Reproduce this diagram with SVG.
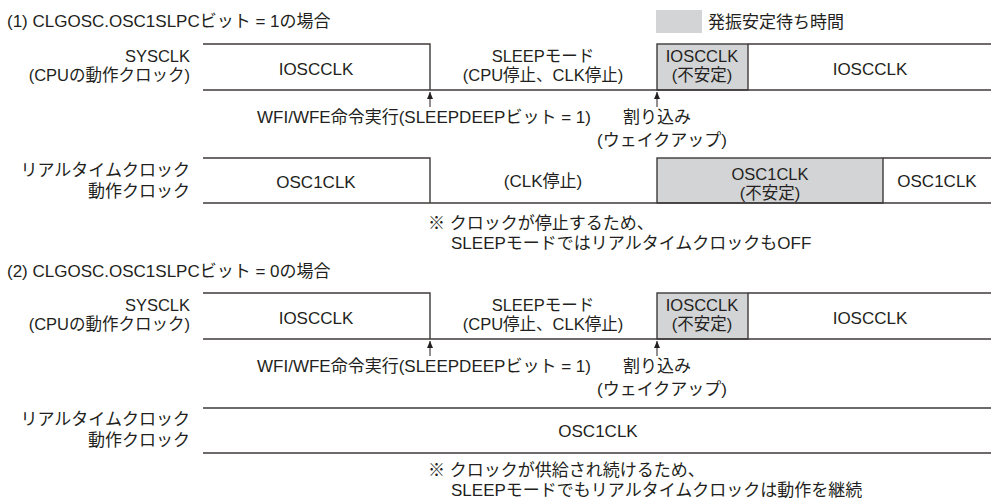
<svg xmlns="http://www.w3.org/2000/svg" width="991" height="500" viewBox="0 0 991 500">
<defs>
<style>
text{font-family:"Liberation Sans","Noto Sans CJK JP",sans-serif;font-size:17px;fill:#231f20}
.s{font-size:16.5px}
.r{text-anchor:end}
.m{text-anchor:middle}
.ln{stroke:#3e3a39;stroke-width:1.4;fill:none}
.g{fill:#d3d4d6;stroke:#3e3a39;stroke-width:1.4}
.ar{stroke:#231f20;stroke-width:1;fill:none}
</style>
<marker id="ah" viewBox="0 0 7 6" refX="7" refY="3" markerWidth="7" markerHeight="6" markerUnits="userSpaceOnUse" orient="auto">
<path d="M0,0 L7,3 L0,6 Z" fill="#231f20"/>
</marker>
</defs>
<g id="title1"><text x="7" y="27">(1) CLGOSC.OSC1SLPCビット = 1の場合</text></g>
<g id="legend"><rect x="656" y="10" width="46" height="23" fill="#d3d4d6"/><text x="708" y="28">発振安定待ち時間</text></g>

<g id="s1-sys-label"><text class="r s" x="190" y="62">SYSCLK</text><text class="r s" x="190" y="81">(CPUの動作クロック)</text></g>
<g id="s1-sys-ios1"><path class="ln" d="M203,44 H430 V90"/><text class="m" x="316" y="75">IOSCCLK</text></g>
<g id="s1-sys-sleep"><text class="m s" x="543" y="62">SLEEPモード</text><text class="m s" x="543" y="81">(CPU停止、CLK停止)</text></g>
<g id="s1-sys-unst"><rect class="g" x="657" y="44" width="91" height="46"/><text class="m s" x="702" y="62">IOSCCLK</text><text class="m s" x="702" y="81">(不安定)</text></g>
<g id="s1-sys-ios2"><path class="ln" d="M748,44 H991"/><text class="m" x="870" y="75">IOSCCLK</text></g>
<g id="s1-sys-base"><path class="ln" d="M203,90 H991"/></g>

<g id="s1-ev1"><text x="257" y="123">WFI/WFE命令実行(SLEEPDEEPビット = 1)</text></g>
<g id="s1-ev2"><text x="623" y="123">割り込み</text><text x="597" y="146">(ウェイクアップ)</text></g>

<g id="s1-rtc-label"><text class="r" x="190" y="176">リアルタイムクロック</text><text class="r" x="190" y="197">動作クロック</text></g>
<g id="s1-rtc-osc1"><path class="ln" d="M203,158 H430 V203"/><text class="m" x="316" y="188">OSC1CLK</text></g>
<g id="s1-rtc-stop"><text class="m" x="543" y="187">(CLK停止)</text></g>
<g id="s1-rtc-unst"><rect class="g" x="657" y="158" width="226" height="45"/><text class="m s" x="770" y="180">OSC1CLK</text><text class="m s" x="770" y="199">(不安定)</text></g>
<g id="s1-rtc-osc2"><path class="ln" d="M883,158 H991"/><text class="m" x="937" y="187">OSC1CLK</text></g>
<g id="s1-rtc-base"><path class="ln" d="M203,203 H991"/></g>
<g id="s1-note"><text x="428" y="229">※ クロックが停止するため、</text><text x="451" y="249">SLEEPモードではリアルタイムクロックもOFF</text></g>

<g id="title2"><text x="7" y="277">(2) CLGOSC.OSC1SLPCビット = 0の場合</text></g>
<g id="s2-sys-label"><text class="r s" x="190" y="311">SYSCLK</text><text class="r s" x="190" y="330">(CPUの動作クロック)</text></g>
<g id="s2-sys-ios1"><path class="ln" d="M203,293 H430 V339"/><text class="m" x="316" y="324">IOSCCLK</text></g>
<g id="s2-sys-sleep"><text class="m s" x="543" y="311">SLEEPモード</text><text class="m s" x="543" y="330">(CPU停止、CLK停止)</text></g>
<g id="s2-sys-unst"><rect class="g" x="657" y="293" width="91" height="46"/><text class="m s" x="702" y="311">IOSCCLK</text><text class="m s" x="702" y="330">(不安定)</text></g>
<g id="s2-sys-ios2"><path class="ln" d="M748,293 H991"/><text class="m" x="870" y="324">IOSCCLK</text></g>
<g id="s2-sys-base"><path class="ln" d="M203,339 H991"/></g>

<g id="s2-ev1"><text x="257" y="372">WFI/WFE命令実行(SLEEPDEEPビット = 1)</text></g>
<g id="s2-ev2"><text x="623" y="372">割り込み</text><text x="597" y="395">(ウェイクアップ)</text></g>

<g id="s2-rtc-label"><text class="r" x="190" y="425">リアルタイムクロック</text><text class="r" x="190" y="446">動作クロック</text></g>
<g id="s2-rtc-osc1"><path class="ln" d="M203,408 H991 M203,453 H991"/><text class="m" x="598" y="437">OSC1CLK</text></g>
<g id="s2-note"><text x="428" y="476">※ クロックが供給され続けるため、</text><text x="451" y="496">SLEEPモードでもリアルタイムクロックは動作を継続</text></g>

<g id="connectors">
<path class="ar" d="M430,107 V92" marker-end="url(#ah)"/>
<path class="ar" d="M657,107 V92" marker-end="url(#ah)"/>
<path class="ar" d="M430,356 V341" marker-end="url(#ah)"/>
<path class="ar" d="M657,356 V341" marker-end="url(#ah)"/>
</g>
</svg>
